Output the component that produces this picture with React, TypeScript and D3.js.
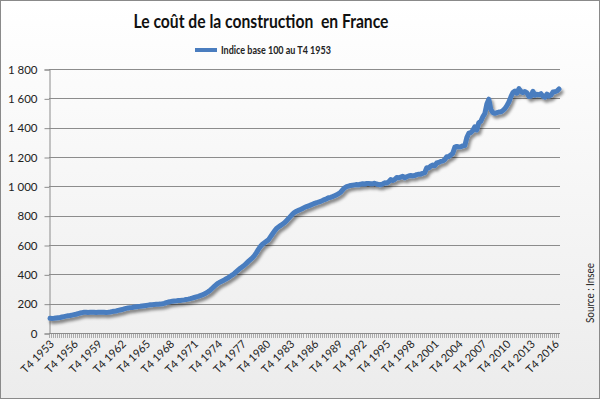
import { useEffect, useRef } from 'react';
import * as d3 from 'd3';

// Indice du coût de la construction, base 100 au T4 1953 (trimestriel)
const values1950s = [100,
  99, 100, 102, 104, 106, 109, 112, 115, 117, 119, 122, 125,
  128, 132, 136, 139, 141, 142, 140, 141, 142, 141, 140, 141];
const values1960s = [
  142, 141, 141, 140, 141, 143, 146, 148, 150, 154, 157, 160,
  164, 168, 171, 173, 174, 177, 179, 181, 182, 184, 186, 188,
  190, 192, 193, 195, 196, 196, 197, 199, 202, 207, 211, 214,
  216, 218, 219, 221];
const values1970s = [
  222, 224, 226, 229, 231, 234, 238, 242, 246, 250, 255, 260,
  266, 274, 282, 292, 305, 318, 330, 340, 348, 355, 362, 370,
  378, 387, 396, 406, 418, 430, 442, 452, 462, 475, 488, 500,
  512, 528, 548, 570];
const values1980s = [
  590, 605, 615, 625, 635, 655, 675, 695, 712, 722, 732, 742,
  752, 766, 780, 795, 810, 822, 830, 836, 842, 848, 856, 862,
  866, 872, 878, 884, 888, 893, 897, 903, 910, 915, 922, 925,
  930, 936, 942, 950];
const values1990s = [
  960, 975, 990, 998, 1002, 1006, 1008, 1010, 1012, 1010, 1015, 1018,
  1016, 1019, 1020, 1018, 1017, 1021, 1016, 1012, 1011, 1016, 1024, 1022,
  1030, 1046, 1040, 1047, 1060, 1058, 1063, 1068, 1058, 1065, 1071, 1074,
  1071, 1074, 1080, 1083];
const values2000s = [
  1083, 1089, 1093, 1127, 1125, 1139, 1145, 1140, 1159, 1163, 1170, 1172,
  1183, 1202, 1203, 1214, 1225, 1267, 1272, 1269, 1270, 1276, 1278, 1332,
  1362, 1366, 1381, 1406, 1385, 1435, 1443, 1474, 1497, 1562, 1594, 1523,
  1503, 1498, 1502, 1507];
const values2010s = [
  1508, 1517, 1530, 1550, 1575, 1610, 1640, 1650, 1635, 1666, 1648, 1639,
  1646, 1637, 1612, 1615, 1648, 1621, 1627, 1625, 1632, 1614, 1608, 1629,
  1615, 1622, 1643, 1645, 1650, 1664];

const tickLabels = [
  'T4 1953', 'T4 1956', 'T4 1959', 'T4 1962', 'T4 1965', 'T4 1968', 'T4 1971', 'T4 1974',
  'T4 1977', 'T4 1980', 'T4 1983', 'T4 1986', 'T4 1989', 'T4 1992', 'T4 1995', 'T4 1998',
  'T4 2001', 'T4 2004', 'T4 2007', 'T4 2010', 'T4 2013', 'T4 2016'];

const yTicks = [0, 200, 400, 600, 800, 1000, 1200, 1400, 1600, 1800];

const seriesName = 'Indice base 100 au T4 1953';
const title = 'Le coût de la construction  en France';

const values = [...values1950s, ...values1960s, ...values1970s, ...values1980s,
  ...values1990s, ...values2000s, ...values2010s];

// labels trimestriels à partir du T4 1953
const categories = values.map((_, i) => {
  const q = (3 + i) % 4 + 1;
  const y = 1953 + Math.floor((3 + i) / 4);
  return `T${q} ${y}`;
});

const W = 600;
const H = 399;
const FONT = 'Lato, "Open Sans", sans-serif';
const BLUE = '#4a7dbf';

export default function App() {
  const svgRef = useRef<SVGSVGElement>(null);

  useEffect(() => {
    if (!svgRef.current) return;
    const svg = d3.select(svgRef.current);
    svg.selectAll('*').remove();

    const left = 49, right = 560, top = 69, bottom = 333;

    const defs = svg.append('defs');
    const grad = defs.append('linearGradient')
      .attr('id', 'bg').attr('x1', 0).attr('y1', 0).attr('x2', 0).attr('y2', 1);
    grad.append('stop').attr('offset', '0%').attr('stop-color', '#ffffff');
    grad.append('stop').attr('offset', '100%').attr('stop-color', '#ececec');

    const shadow = defs.append('filter').attr('id', 'shadow')
      .attr('x', '-5%').attr('y', '-5%').attr('width', '110%').attr('height', '115%');
    shadow.append('feDropShadow')
      .attr('dx', 2).attr('dy', 3).attr('stdDeviation', 1.6)
      .attr('flood-color', '#000').attr('flood-opacity', 0.45);

    // fond + cadre
    svg.append('rect')
      .attr('x', 0.5).attr('y', 0.5).attr('width', W - 1).attr('height', H - 1)
      .attr('fill', 'url(#bg)').attr('stroke', '#8a8a8a');

    const x = d3.scaleBand<string>().domain(categories).range([left, right]).padding(0);
    const y = d3.scaleLinear().domain([0, 1800]).range([bottom, top]);
    const fmt = d3.formatLocale({ decimal: ',', thousands: '\u00a0', grouping: [3], currency: ['', ' €'] }).format(',d');

    // grille
    svg.append('g').selectAll('line')
      .data(yTicks.filter(d => d > 0))
      .enter().append('line')
      .attr('x1', left).attr('x2', right)
      .attr('y1', d => Math.round(y(d)) + 0.5).attr('y2', d => Math.round(y(d)) + 0.5)
      .attr('stroke', '#8c8c8c').attr('stroke-width', 1);

    // axe Y
    const yAxis = svg.append('g')
      .attr('transform', `translate(${left + 0.5},0.5)`)
      .call(d3.axisLeft(y).tickValues(yTicks).tickFormat(d => fmt(d as number)).tickSize(5).tickPadding(7));
    yAxis.select('.domain').attr('stroke', '#8c8c8c');
    yAxis.selectAll('line').attr('stroke', '#8c8c8c');
    yAxis.selectAll('text')
      .style('font-family', FONT).style('font-size', '11.5px').attr('fill', '#222');

    // axe X : traits à chaque trimestre
    svg.append('g').selectAll('line')
      .data(categories)
      .enter().append('line')
      .attr('x1', d => Math.round(x(d)!) + 0.5).attr('x2', d => Math.round(x(d)!) + 0.5)
      .attr('y1', bottom).attr('y2', bottom + 5)
      .attr('stroke', '#9a9a9a').attr('stroke-width', 0.8);
    svg.append('line')
      .attr('x1', left).attr('x2', right)
      .attr('y1', bottom + 0.5).attr('y2', bottom + 0.5)
      .attr('stroke', '#8c8c8c');

    svg.append('g').selectAll('text')
      .data(tickLabels)
      .enter().append('text')
      .attr('transform', d => `translate(${x(d)! + x.bandwidth() / 2 + 2},${bottom + 9}) rotate(-45)`)
      .attr('text-anchor', 'end')
      .attr('dy', '0.35em')
      .style('font-family', FONT).style('font-size', '11px').attr('fill', '#222')
      .text(d => d);

    // courbe
    const line = d3.line<number>()
      .x((_, i) => x(categories[i])! + x.bandwidth() / 2)
      .y(d => y(d));

    svg.append('path')
      .datum(values)
      .attr('fill', 'none')
      .attr('stroke', BLUE)
      .attr('stroke-width', 5)
      .attr('stroke-linejoin', 'round')
      .attr('stroke-linecap', 'round')
      .attr('filter', 'url(#shadow)')
      .attr('d', line);

    // titre
    svg.append('text')
      .attr('x', 261).attr('y', 28)
      .attr('text-anchor', 'middle')
      .attr('textLength', 255).attr('lengthAdjust', 'spacingAndGlyphs')
      .style('white-space', 'pre')
      .style('font-family', FONT).style('font-size', '18.5px').style('font-weight', 'bold')
      .attr('fill', '#111')
      .text(title);

    // légende
    svg.append('line')
      .attr('x1', 195).attr('x2', 217).attr('y1', 50).attr('y2', 50)
      .attr('stroke', BLUE).attr('stroke-width', 4);
    svg.append('text')
      .attr('x', 221).attr('y', 54)
      .attr('textLength', 110).attr('lengthAdjust', 'spacingAndGlyphs')
      .style('font-family', FONT).style('font-size', '11px').style('font-weight', 'bold')
      .attr('fill', '#222')
      .text(seriesName);

    // source
    svg.append('text')
      .attr('transform', 'translate(594,293) rotate(-90)')
      .attr('text-anchor', 'middle')
      .attr('textLength', 60).attr('lengthAdjust', 'spacingAndGlyphs')
      .style('font-family', FONT).style('font-size', '11px')
      .attr('fill', '#222')
      .text('Source : Insee');
  }, []);

  return (
    <div style={{ position: 'fixed', left: 0, top: 0 }}>
      <svg ref={svgRef} width={W} height={H} style={{ display: 'block' }} />
    </div>
  );
}
